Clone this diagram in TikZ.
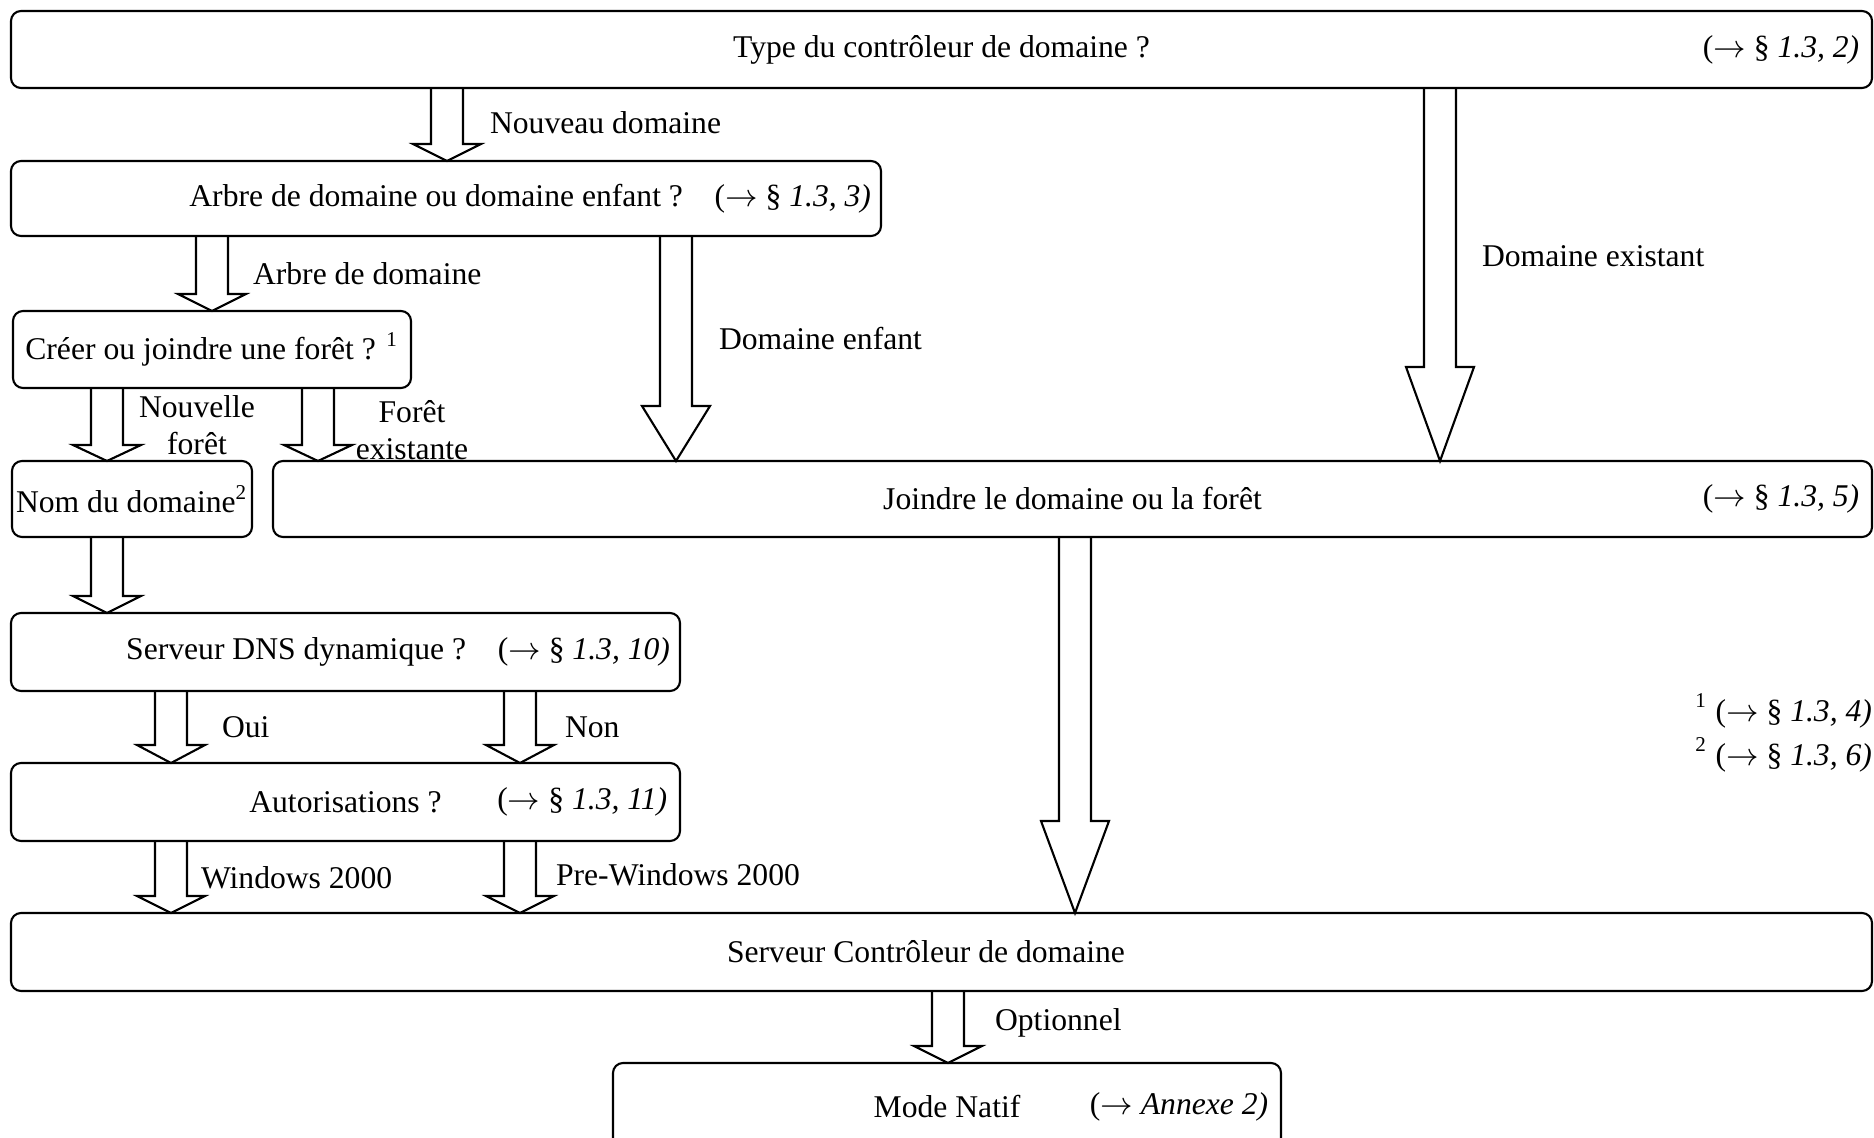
\documentclass[tikz,border=0pt]{standalone}
\usepackage{fontspec}
\setmainfont{Liberation Serif}
\usetikzlibrary{calc}

% fleche pleine : x, noeud depart, noeud arrivee, longueur de la pointe
\newcommand{\fleche}[4]{%
  \path (#1,0 |- #2.south) coordinate (fs) (#1,0 |- #3.north) coordinate (ft);
  \draw[bloc] ($(fs)+(-0.16,0)$) -- ($(ft)+(-0.16,#4)$) -- ($(ft)+(-0.34,#4)$) -- (ft)
    -- ($(ft)+(0.34,#4)$) -- ($(ft)+(0.16,#4)$) -- ($(fs)+(0.16,0)$);}
\newcommand{\renvoi}[1]{($\rightarrow$ #1}

\begin{document}
\begin{tikzpicture}[line width=0.6pt]
\tikzstyle{every node}=[font=\fontsize{9}{10.4}\selectfont]
\tikzstyle{box}=[draw,rounded corners=0.1cm,outer sep=0pt,inner xsep=0.1cm,minimum height=0.77cm]
\tikzstyle{bloc}=[line join=miter]
\tikzstyle{lab}=[inner sep=0pt]
\clip (0,0) rectangle (18.74,-11.38);
% boites
\node[box,minimum width=18.61cm](b1) at (9.415,-0.495) {Type du contrôleur de domaine ?};
\node[anchor=east](r1) at (b1.east) {\renvoi{§ \textit{1.3, 2)}}};
\node[box,text width=8.50cm,align=flush right,minimum height=0.75cm](b2) at (4.46,-1.985) {Arbre de domaine ou domaine enfant ?\quad\renvoi{§ \textit{1.3, 3)}}};
\node[box,minimum width=3.98cm](b3) at (2.12,-3.495) {Créer ou joindre une forêt ? \textsuperscript{1}};
\node[box,minimum width=2.40cm,inner xsep=0pt,minimum height=0.76cm](b4) at (1.32,-4.99) {Nom du domaine\textsuperscript{2}};
\node[box,minimum width=15.99cm,minimum height=0.76cm](b5) at (10.725,-4.99) {Joindre le domaine ou la forêt};
\node[anchor=east](r5) at (b5.east) {\renvoi{§ \textit{1.3, 5)}}};
\node[box,text width=6.49cm,align=flush right,minimum height=0.78cm](b6) at (3.455,-6.52) {Serveur DNS dynamique ?\quad\renvoi{§ \textit{1.3, 10)}}};
\node[box,minimum width=6.69cm,minimum height=0.78cm](b7) at (3.455,-8.02) {Autorisations ?};
\node[anchor=east](r7) at (b7.east) {\renvoi{§ \textit{1.3, 11)}}};
\node[box,minimum width=18.61cm,minimum height=0.78cm](b8) at (9.415,-9.52) {Serveur Contrôleur de domaine\hspace*{0.31cm}};
\node[box,minimum width=6.68cm,minimum height=0.87cm](b9) at (9.47,-11.065) {Mode Natif};
\node[anchor=east](r9) at (b9.east) {\renvoi{\textit{Annexe 2)}}};
% fleches
\fleche{4.47}{b1}{b2}{0.17}
\fleche{2.12}{b2}{b3}{0.17}
\fleche{6.76}{b2}{b5}{0.55}
\fleche{14.40}{b1}{b5}{0.94}
\fleche{1.07}{b3}{b4}{0.16}
\fleche{3.18}{b3}{b5}{0.16}
\fleche{1.07}{b4}{b6}{0.17}
\fleche{10.75}{b5}{b8}{0.92}
\fleche{1.71}{b6}{b7}{0.18}
\fleche{5.20}{b6}{b7}{0.18}
\fleche{1.71}{b7}{b8}{0.17}
\fleche{5.20}{b7}{b8}{0.17}
\fleche{9.48}{b8}{b9}{0.17}
% etiquettes
\node[lab,anchor=west](e1) at (4.89,-1.23) {Nouveau domaine};
\node[lab,anchor=west](e2) at (2.52,-2.74) {Arbre de domaine};
\node[lab,anchor=west](e3) at (7.18,-3.39) {Domaine enfant};
\node[lab,align=center](e4) at (1.97,-4.25) {Nouvelle\\forêt};
\node[lab,align=center](e5) at (4.12,-4.30) {Forêt\\existante};
\node[lab,anchor=west](e6) at (14.81,-2.56) {Domaine existant};
\node[lab,anchor=west](e7) at (2.21,-7.27) {Oui};
\node[lab,anchor=west](e8) at (5.64,-7.27) {Non};
\node[lab,anchor=west](e9) at (2.00,-8.78) {Windows 2000};
\node[lab,anchor=west](e10) at (5.55,-8.75) {Pre-Windows 2000};
\node[lab,anchor=west](e11) at (9.94,-10.23) {Optionnel};
% notes
\node[lab,anchor=east](f1) at (18.73,-7.11) {\textsuperscript{1} \renvoi{§ \textit{1.3, 4)}}};
\node[lab,anchor=east](f2) at (18.73,-7.55) {\textsuperscript{2} \renvoi{§ \textit{1.3, 6)}}};
\end{tikzpicture}
\end{document}
